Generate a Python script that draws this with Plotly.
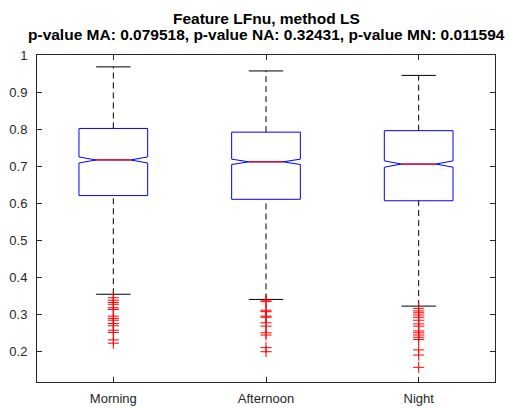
import plotly.graph_objects as go

# Summary statistics of LFnu per period (method LS)
periods = ["Morning", "Afternoon", "Night"]
positions = [1, 2, 3]
q1 = [0.621, 0.611, 0.607]
median = [0.717, 0.712, 0.706]
q3 = [0.802, 0.792, 0.796]
lower_whisker = [0.355, 0.341, 0.323]
upper_whisker = [0.968, 0.957, 0.945]
notch_half = [0.0081, 0.0072, 0.0085]

outliers_morning = [0.3455, 0.339, 0.333, 0.328, 0.3185, 0.314, 0.296, 0.290,
                    0.285, 0.276, 0.270, 0.258, 0.252, 0.232, 0.223]
outliers_afternoon = [0.339, 0.335, 0.312, 0.308, 0.296, 0.293, 0.278, 0.269,
                      0.251, 0.245, 0.211, 0.200]
outliers_night = [0.317, 0.310, 0.305, 0.299, 0.293, 0.285, 0.275, 0.269,
                  0.256, 0.251, 0.245, 0.239, 0.233, 0.205, 0.191, 0.158]
outliers = [outliers_morning, outliers_afternoon, outliers_night]

y_ticks = [0.2, 0.3, 0.4, 0.5, 0.6, 0.7, 0.8, 0.9, 1.0]
y_tick_text = ["0.2", "0.3", "0.4", "0.5", "0.6", "0.7", "0.8", "0.9", "1"]

title_lines = ["Feature LFnu, method LS",
               "p-value MA: 0.079518, p-value NA: 0.32431, p-value MN: 0.011594"]

BOX_W = 0.45
AX_COL = "#262626"
FONT = "Liberation Sans, Arial, sans-serif"
PLOT_H = 408 - 55 - 26

fig = go.Figure()

for i, x in enumerate(positions):
    # dashed whiskers
    for a, b in [(q3[i], upper_whisker[i]), (lower_whisker[i], q1[i])]:
        fig.add_trace(go.Scatter(
            x=[x, x], y=[a, b], mode="lines",
            line=dict(color="black", width=1, dash="6px,4px"),
            hoverinfo="skip", showlegend=False))
    # whisker caps
    for v in [upper_whisker[i], lower_whisker[i]]:
        fig.add_trace(go.Scatter(
            x=[x - BOX_W / 4, x + BOX_W / 4], y=[v, v], mode="lines",
            line=dict(color="black", width=1),
            hoverinfo="skip", showlegend=False))

# notched boxes (whiskers collapsed; drawn separately above)
fig.add_trace(go.Box(
    x=positions, q1=q1, median=median, q3=q3,
    lowerfence=q1, upperfence=q3,
    notched=True, notchspan=notch_half, notchwidth=0.25,
    width=BOX_W, whiskerwidth=0,
    line=dict(color="#0000FF", width=1),
    fillcolor="rgba(0,0,0,0)",
    boxpoints=False, hoverinfo="skip", showlegend=False))

for i, x in enumerate(positions):
    # median line
    fig.add_trace(go.Scatter(
        x=[x - BOX_W / 4, x + BOX_W / 4], y=[median[i], median[i]], mode="lines",
        line=dict(color="red", width=1.3),
        hoverinfo="skip", showlegend=False))
    # outliers
    fig.add_trace(go.Scatter(
        x=[x] * len(outliers[i]), y=outliers[i], mode="markers",
        marker=dict(symbol="cross-thin", size=8,
                    line=dict(color="red", width=1), color="red"),
        hoverinfo="skip", showlegend=False))

# two-line bold title
for text, ypx in zip(title_lines, [18.5, 34.5]):
    fig.add_annotation(
        text="<b>" + text + "</b>", xref="paper", yref="paper",
        x=0.5, y=1 + (55 - ypx) / PLOT_H, xanchor="center", yanchor="middle",
        showarrow=False, font=dict(family=FONT, size=15.5, color="black"))

fig.update_layout(
    width=509, height=408,
    margin=dict(l=37, r=14, t=55, b=26, autoexpand=False),
    paper_bgcolor="white", plot_bgcolor="white",
    font=dict(family=FONT, size=13, color=AX_COL),
    xaxis=dict(range=[0.5, 3.5], tickvals=positions, ticktext=periods,
               ticks="inside", ticklen=5, tickcolor=AX_COL,
               showline=True, linecolor=AX_COL, linewidth=1, mirror="ticks",
               showgrid=False, zeroline=False, tickfont=dict(size=13),
               ticklabelstandoff=4, automargin=False),
    yaxis=dict(range=[0.1184, 1.0], tickvals=y_ticks, ticktext=y_tick_text,
               ticks="inside", ticklen=5, tickcolor=AX_COL,
               showline=True, linecolor=AX_COL, linewidth=1, mirror="ticks",
               showgrid=False, zeroline=False, tickfont=dict(size=13),
               ticklabelstandoff=6, automargin=False),
)

fig.write_html("out.html")
